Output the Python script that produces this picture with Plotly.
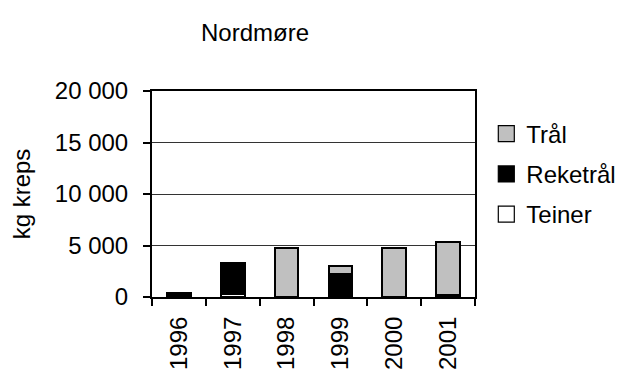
import plotly.graph_objects as go

years = ["1996", "1997", "1998", "1999", "2000", "2001"]
teiner = [0, 250, 0, 0, 0, 200]
reketral = [400, 3100, 0, 2250, 0, 0]
tral = [0, 0, 4780, 750, 4780, 5120]

series = [
    ("Teiner", teiner, "#FFFFFF"),
    ("Reketrål", reketral, "#000000"),
    ("Trål", tral, "#C0C0C0"),
]

FONT = "Liberation Sans, Arial, sans-serif"
fig = go.Figure()
for name, vals, col in series:
    fig.add_trace(go.Bar(
        x=years, y=vals, name=name, showlegend=False,
        marker=dict(color=col, line=dict(color="black", width=2)),
    ))
for name, vals, col in reversed(series):
    fig.add_trace(go.Scatter(
        x=[None], y=[None], name=name, mode="markers",
        legendgroup=name,
        marker=dict(symbol="square", size=16, color=col,
                    line=dict(color="black", width=1.2)),
    ))

fig.update_layout(
    width=625, height=374,
    margin=dict(l=143, r=153, t=83, b=74),
    paper_bgcolor="white", plot_bgcolor="white",
    barmode="stack", bargap=0.56,
    separators=", ",
    font=dict(family=FONT, size=24, color="black"),
    title=dict(text="Nordmøre", x=247/625, xanchor="center",
               y=1-25/374, yanchor="middle", yref="container",
               font=dict(size=24, family=FONT)),
    legend=dict(x=1.035, xanchor="left", y=0.90, yanchor="top",
                traceorder="grouped", tracegroupgap=6,
                font=dict(size=24, family=FONT), bgcolor="rgba(0,0,0,0)"),
    xaxis=dict(type="category", showline=True, linecolor="black", linewidth=2,
               mirror=True, ticks="outside", tickson="boundaries",
               ticklen=7, tickcolor="black", tickwidth=1.5,
               tickangle=-90, showgrid=False, ticklabelstandoff=8),
    yaxis=dict(range=[0, 20000], dtick=5000, tickformat=",d",
               showline=True, linecolor="black", linewidth=2, mirror=True,
               ticks="outside", ticklen=7, tickcolor="black", tickwidth=1.5,
               showgrid=True, gridcolor="#333333", gridwidth=1,
               zeroline=False, ticklabelstandoff=10,
               title=dict(text="kg kreps", standoff=18,
                          font=dict(size=24, family=FONT))),
)

fig.write_html("out.html")
